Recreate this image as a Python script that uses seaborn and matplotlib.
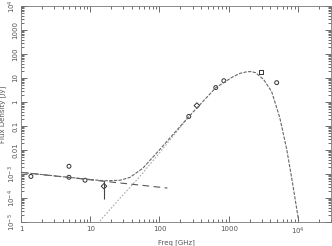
import numpy as np
import pandas as pd
import matplotlib
matplotlib.use("Agg")
import matplotlib.pyplot as plt
import matplotlib.ticker as mticker
import seaborn as sns

# measured points (GHz, Jy)
pt_freq = [1.39, 4.93, 4.93, 8.4, 15.8, 265, 347, 650, 850, 2900, 4930]
pt_flux = [7.9e-4, 2.1e-3, 7.3e-4, 5.5e-4, 3.1e-4, 0.25, 0.71, 4.0, 7.7, 18.0, 6.4]
pt_kind = ['a', 'b', 'a', 'a', 'c', 'a', 'c', 'a', 'b', 'd', 'b']
err_freq = [15.8]
err_lo = [9e-5]
err_hi = [5e-4]

# total model curve
tot_freq = [1.0, 3.66, 15.8, 26.9, 37.4, 57.5, 101, 265, 652, 1146, 1450, 1824,
            2100, 2455, 3206, 4169, 5458, 6887, 8414, 10233]
tot_flux = [1.17e-3, 7.9e-4, 5.2e-4, 5.5e-4, 7.2e-4, 1.74e-3, 1.05e-2, 0.245, 3.98,
            11.2, 15.5, 18.2, 18.5, 16.6, 8.5, 2.7, 0.224, 0.0105, 3.7e-4, 1.1e-5]

# synchrotron component
syn_freq = [1.0, 130]
syn_flux = [1.17e-3, 2.6e-4]

# dust component
dust_freq = [13.8, 26.9, 52.1, 101, 265]
dust_flux = [1.1e-5, 9.8e-5, 7.9e-4, 7.9e-3, 0.24]

sns.set_theme(style="ticks")
plt.rcParams['font.family'] = ['DejaVu Sans']

fig = plt.figure(figsize=(3.32, 2.46), dpi=100)
ax = fig.add_axes([21/332, 24/246, 310/332, 216/246])

tot = pd.DataFrame({'f': tot_freq, 's': tot_flux})
syn = pd.DataFrame({'f': syn_freq, 's': syn_flux})
dust = pd.DataFrame({'f': dust_freq, 's': dust_flux})
pts = pd.DataFrame({'f': pt_freq, 's': pt_flux, 'k': pt_kind})

sns.lineplot(data=dust, x='f', y='s', ax=ax, color='#aaaaaa', lw=0.8,
             linestyle=(0, (1.5, 1.5)), sort=False)
sns.lineplot(data=syn, x='f', y='s', ax=ax, color='#555555', lw=0.8,
             linestyle=(0, (6, 4)), sort=False)
sns.lineplot(data=tot, x='f', y='s', ax=ax, color='#666666', lw=0.8,
             linestyle=(0, (3, 1.2)), sort=False)

ax.vlines(err_freq, err_lo, err_hi, color='#444444', lw=0.8)
sns.scatterplot(data=pts, x='f', y='s', style='k', ax=ax, legend=False,
                markers={'a': 'o', 'b': 'o', 'c': 'D', 'd': 's'},
                s=8, facecolor='none', edgecolor='#333333', linewidth=0.7)

ax.set_xscale('log')
ax.set_yscale('log')
ax.set_xlim(1, 3e4)
ax.set_ylim(1e-5, 1e4)

xlab = {1: '1', 10: '10', 100: '100', 1000: '1000', 10000: r'10$^4$'}
ylab = {1e4: r'10$^4$', 1e3: '1000', 1e2: '100', 10: '10', 1: '1', 0.1: '0.1',
        0.01: '0.01', 1e-3: r'10$^{-3}$', 1e-4: r'10$^{-4}$', 1e-5: r'10$^{-5}$'}
ax.xaxis.set_major_locator(mticker.FixedLocator(list(xlab.keys())))
ax.xaxis.set_major_formatter(mticker.FixedFormatter(list(xlab.values())))
ax.yaxis.set_major_locator(mticker.FixedLocator(list(ylab.keys())))
ax.yaxis.set_major_formatter(mticker.FixedFormatter(list(ylab.values())))
ax.xaxis.set_minor_locator(mticker.LogLocator(base=10, subs=np.arange(2, 10), numticks=20))
ax.yaxis.set_minor_locator(mticker.LogLocator(base=10, subs=np.arange(2, 10), numticks=20))
ax.yaxis.set_minor_formatter(mticker.NullFormatter())
ax.xaxis.set_minor_formatter(mticker.NullFormatter())

ax.tick_params(which='both', direction='in', top=True, right=True, colors='#555555',
               labelsize=5, width=0.6)
ax.tick_params(which='major', length=4)
ax.tick_params(which='minor', length=2)
ax.tick_params(axis='x', pad=3)
ax.tick_params(axis='y', pad=2)
for lbl in ax.get_yticklabels():
    lbl.set_rotation(90)
    lbl.set_va('center')
for sp in ax.spines.values():
    sp.set_color('#777777')
    sp.set_linewidth(0.6)

ax.set_xlabel('Freq [GHz]', fontsize=5, color='#555555')
ax.set_ylabel('Flux Density [Jy]', fontsize=5, color='#555555')
ax.xaxis.set_label_coords(0.5, -17/216)
ax.yaxis.set_label_coords(-15/310, 0.5)

fig.savefig('out.png', dpi=100)
